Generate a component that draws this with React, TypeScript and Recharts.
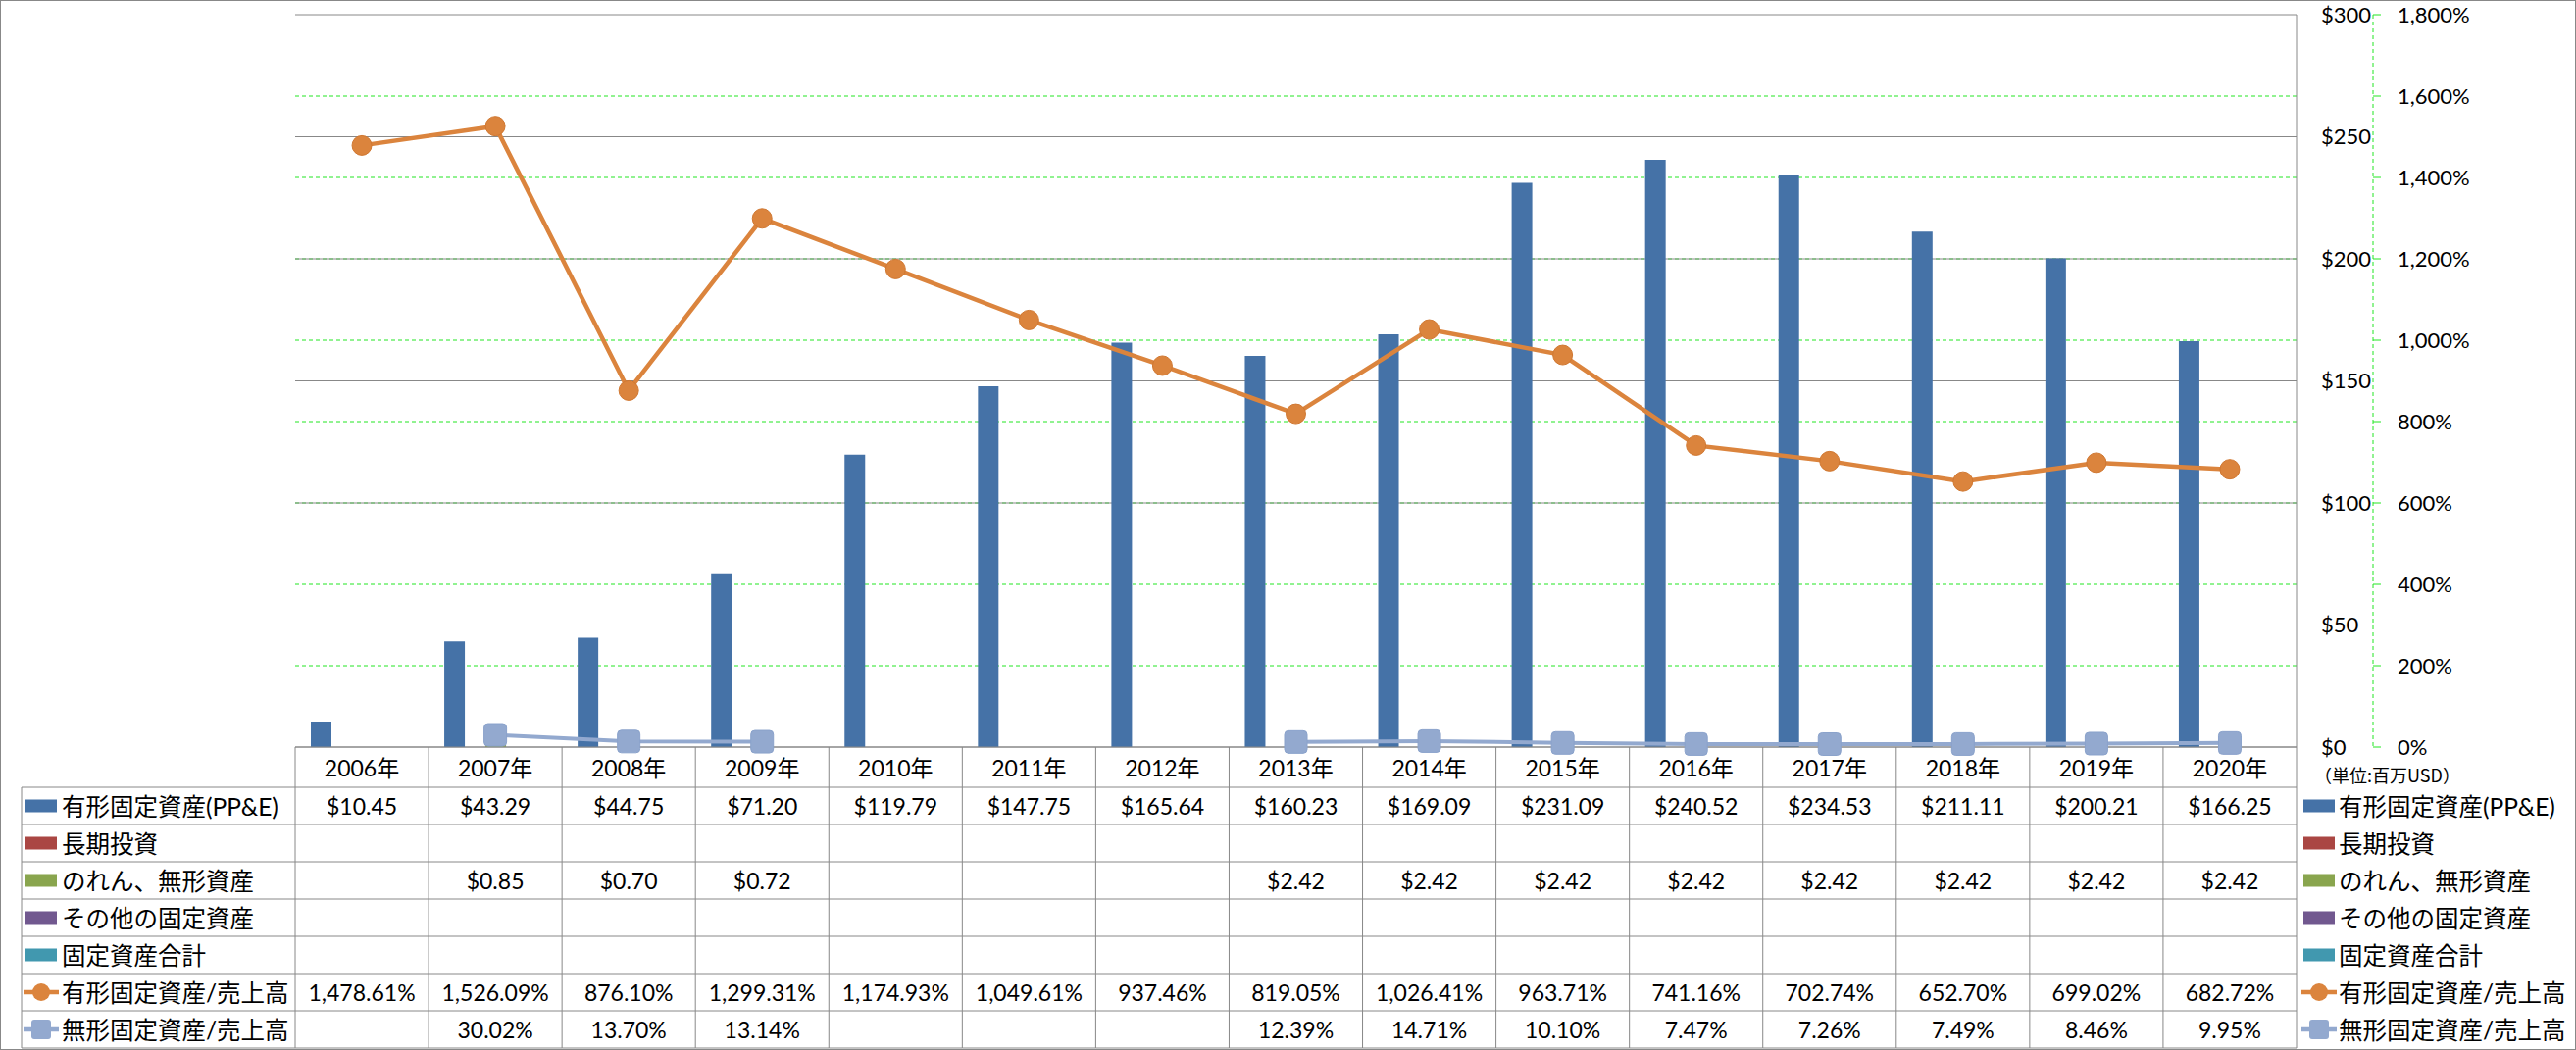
import React from "react";
import { ComposedChart, Bar, Line, XAxis, YAxis, CartesianGrid } from "recharts";

const years = ["2006年", "2007年", "2008年", "2009年", "2010年", "2011年", "2012年", "2013年", "2014年", "2015年", "2016年", "2017年", "2018年", "2019年", "2020年"];
const ppe = [10.45, 43.29, 44.75, 71.2, 119.79, 147.75, 165.64, 160.23, 169.09, 231.09, 240.52, 234.53, 211.11, 200.21, 166.25];
const longInvest = [null, null, null, null, null, null, null, null, null, null, null, null, null, null, null];
const goodwill = [null, 0.85, 0.7, 0.72, null, null, null, 2.42, 2.42, 2.42, 2.42, 2.42, 2.42, 2.42, 2.42];
const otherFixed = [null, null, null, null, null, null, null, null, null, null, null, null, null, null, null];
const totalFixed = [null, null, null, null, null, null, null, null, null, null, null, null, null, null, null];
const ppeRatio = [1478.61, 1526.09, 876.1, 1299.31, 1174.93, 1049.61, 937.46, 819.05, 1026.41, 963.71, 741.16, 702.74, 652.7, 699.02, 682.72];
const intangibleRatio = [null, 30.02, 13.7, 13.14, null, null, null, 12.39, 14.71, 10.1, 7.47, 7.26, 7.49, 8.46, 9.95];

const usdTicks = [0, 50, 100, 150, 200, 250, 300];
const pctTicks = [0, 200, 400, 600, 800, 1000, 1200, 1400, 1600, 1800];
const pctGridValues = [200, 400, 600, 800, 1000, 1200, 1400, 1600];

const seriesNames = ["有形固定資産(PP&E)", "長期投資", "のれん、無形資産", "その他の固定資産", "固定資産合計", "有形固定資産/売上高", "無形固定資産/売上高"];
const seriesColors = ["#4572A7", "#AA4643", "#89A54E", "#71588F", "#4198AF", "#DB843D", "#93A9CF"];
const seriesKinds = ["bar", "bar", "bar", "bar", "bar", "circle", "square"];
const unitLabel = "（単位:百万USD）";

const data = years.map((year, i) => ({
  year,
  ppe: ppe[i],
  longInvest: longInvest[i],
  goodwill: goodwill[i],
  otherFixed: otherFixed[i],
  totalFixed: totalFixed[i],
  ppeRatio: ppeRatio[i],
  intangibleRatio: intangibleRatio[i],
}));

const fmtUsd = (v: number | null) => (v == null ? "" : "$" + v.toFixed(2));
const fmtPct = (v: number | null) =>
  v == null ? "" : v.toLocaleString("en-US", { minimumFractionDigits: 2, maximumFractionDigits: 2 }) + "%";

const tableRows = [
  { values: ppe, fmt: fmtUsd },
  { values: longInvest, fmt: fmtUsd },
  { values: goodwill, fmt: fmtUsd },
  { values: otherFixed, fmt: fmtUsd },
  { values: totalFixed, fmt: fmtUsd },
  { values: ppeRatio, fmt: fmtPct },
  { values: intangibleRatio, fmt: fmtPct },
];

const W = 2627;
const H = 1071;
const PLOT_LEFT = 301;
const PLOT_RIGHT = 2342;
const PLOT_TOP = 15;
const PLOT_BOTTOM = 762;
const USD_AXIS_W = 78;
const PCT_AXIS_W = 100;
const COL_W = (PLOT_RIGHT - PLOT_LEFT) / years.length;
const HEADER_H = 41;
const ROW_H = 38;
const TABLE_LEFT = 22;
const TABLE_BOTTOM = PLOT_BOTTOM + HEADER_H + ROW_H * tableRows.length;
const GRAY = "#888888";
const GREEN = "#22e622";
const FONT = "Lato, 'Noto Sans CJK JP', sans-serif";

const TableTick = (props: any) => {
  const { x, y, index } = props;
  const left = x - COL_W / 2;
  const right = x + COL_W / 2;
  const rowTop = y + HEADER_H;
  return (
    <g>
      <line x1={left} y1={y} x2={left} y2={TABLE_BOTTOM} stroke={GRAY} />
      {index === years.length - 1 && <line x1={right} y1={y} x2={right} y2={TABLE_BOTTOM} stroke={GRAY} />}
      <text x={x} y={y + 21} textAnchor="middle" dominantBaseline="central" fontSize={23} fontFamily={FONT} fill="#000">
        {years[index]}
      </text>
      {tableRows.map((r, i) => (
        <g key={i}>
          <line x1={left} y1={rowTop + i * ROW_H} x2={right} y2={rowTop + i * ROW_H} stroke={GRAY} />
          <text x={x} y={rowTop + i * ROW_H + ROW_H / 2} textAnchor="middle" dominantBaseline="central" fontSize={23} fontFamily={FONT} fill="#000">
            {r.fmt(r.values[index] as number | null)}
          </text>
        </g>
      ))}
      <line x1={left} y1={TABLE_BOTTOM} x2={right} y2={TABLE_BOTTOM} stroke={GRAY} />
    </g>
  );
};

const LegendKey = ({ kind, color, cx, cy }: { kind: string; color: string; cx: number; cy: number }) => {
  if (kind === "bar") return <rect x={cx - 16} y={cy - 6.5} width={32} height={13} fill={color} />;
  return (
    <g>
      <line x1={cx - 18} y1={cy} x2={cx + 18} y2={cy} stroke={color} strokeWidth={4.5} />
      {kind === "circle" ? (
        <circle cx={cx} cy={cy} r={9} fill={color} />
      ) : (
        <rect x={cx - 10} y={cy - 10} width={20} height={20} rx={3} fill={color} />
      )}
    </g>
  );
};

const Decorations = () => {
  const rowTop = PLOT_BOTTOM + HEADER_H;
  return (
    <g>
      <rect x={0.5} y={0.5} width={W - 1} height={H - 1} fill="none" stroke={GRAY} />
      <line x1={TABLE_LEFT} y1={rowTop} x2={TABLE_LEFT} y2={TABLE_BOTTOM} stroke={GRAY} />
      {seriesNames.map((name, i) => {
        const cy = rowTop + i * ROW_H + ROW_H / 2;
        return (
          <g key={name}>
            <line x1={TABLE_LEFT} y1={rowTop + i * ROW_H} x2={PLOT_LEFT} y2={rowTop + i * ROW_H} stroke={GRAY} />
            <LegendKey kind={seriesKinds[i]} color={seriesColors[i]} cx={42} cy={cy} />
            <text x={63} y={cy} dominantBaseline="central" fontSize={24.5} fontFamily={FONT} fill="#000">
              {name}
            </text>
            <LegendKey kind={seriesKinds[i]} color={seriesColors[i]} cx={2365} cy={cy} />
            <text x={2385} y={cy} dominantBaseline="central" fontSize={24.5} fontFamily={FONT} fill="#000">
              {name}
            </text>
          </g>
        );
      })}
      <line x1={TABLE_LEFT} y1={TABLE_BOTTOM} x2={PLOT_LEFT} y2={TABLE_BOTTOM} stroke={GRAY} />
      <text x={2360} y={790} dominantBaseline="central" fontSize={18} fontFamily="'Noto Sans CJK JP', sans-serif" fill="#000">
        {unitLabel}
      </text>
    </g>
  );
};

const CircleDot = (p: any) =>
  p.cy == null ? (
    <g key={`c${p.index}`} />
  ) : (
    <circle key={`c${p.index}`} cx={p.cx} cy={p.cy} r={10} fill="#DB843D" stroke="#d07832" strokeWidth={1} />
  );

const SquareDot = (p: any) =>
  p.cy == null ? (
    <g key={`s${p.index}`} />
  ) : (
    <rect key={`s${p.index}`} x={p.cx - 11.5} y={p.cy - 11.5} width={23} height={23} rx={4} fill="#93A9CF" stroke="#8aa2cb" strokeWidth={1} />
  );

export default function App() {
  return (
    <div style={{ position: "absolute", left: 0, top: 0, width: W, height: H, background: "#fff" }}>
      <ComposedChart
        width={W}
        height={H}
        data={data}
        margin={{ top: PLOT_TOP, right: W - PLOT_RIGHT - USD_AXIS_W - PCT_AXIS_W, bottom: 0, left: PLOT_LEFT }}
        barSize={21}
        barGap={0}
      >
        <CartesianGrid yAxisId="b_pct" vertical={false} stroke={GREEN} strokeDasharray="4 3" horizontalValues={pctGridValues} />
        <CartesianGrid yAxisId="a_usd" vertical={false} stroke={GRAY} />
        <XAxis
          dataKey="year"
          interval={0}
          height={H - PLOT_BOTTOM}
          axisLine={{ stroke: GRAY }}
          tickLine={false}
          tickSize={0}
          tickMargin={0}
          tick={<TableTick />}
        />
        <YAxis
          yAxisId="a_usd"
          orientation="right"
          width={USD_AXIS_W}
          domain={[0, 300]}
          ticks={usdTicks}
          tickFormatter={(v: number) => "$" + v}
          axisLine={{ stroke: GRAY }}
          tickLine={false}
          tickSize={0}
          tickMargin={25}
          tick={{ fill: "#000", fontSize: 22, fontFamily: FONT }}
        />
        <YAxis
          yAxisId="b_pct"
          orientation="right"
          width={PCT_AXIS_W}
          domain={[0, 1800]}
          ticks={pctTicks}
          tickFormatter={(v: number) => v.toLocaleString("en-US") + "%"}
          axisLine={{ stroke: GREEN, strokeDasharray: "4 3" }}
          tickLine={{ stroke: GREEN }}
          tickSize={8}
          tickMargin={17}
          tick={{ fill: "#000", fontSize: 22, fontFamily: FONT }}
        />
        <Bar yAxisId="a_usd" dataKey="ppe" fill={seriesColors[0]} isAnimationActive={false} />
        <Bar yAxisId="a_usd" dataKey="longInvest" fill={seriesColors[1]} isAnimationActive={false} />
        <Bar yAxisId="a_usd" dataKey="goodwill" fill={seriesColors[2]} isAnimationActive={false} />
        <Bar yAxisId="a_usd" dataKey="otherFixed" fill={seriesColors[3]} isAnimationActive={false} />
        <Bar yAxisId="a_usd" dataKey="totalFixed" fill={seriesColors[4]} isAnimationActive={false} />
        <Line yAxisId="b_pct" dataKey="ppeRatio" stroke={seriesColors[5]} strokeWidth={4.5} dot={CircleDot} activeDot={false} isAnimationActive={false} />
        <Line yAxisId="b_pct" dataKey="intangibleRatio" stroke={seriesColors[6]} strokeWidth={4} dot={SquareDot} activeDot={false} isAnimationActive={false} />
        <Decorations />
      </ComposedChart>
    </div>
  );
}
